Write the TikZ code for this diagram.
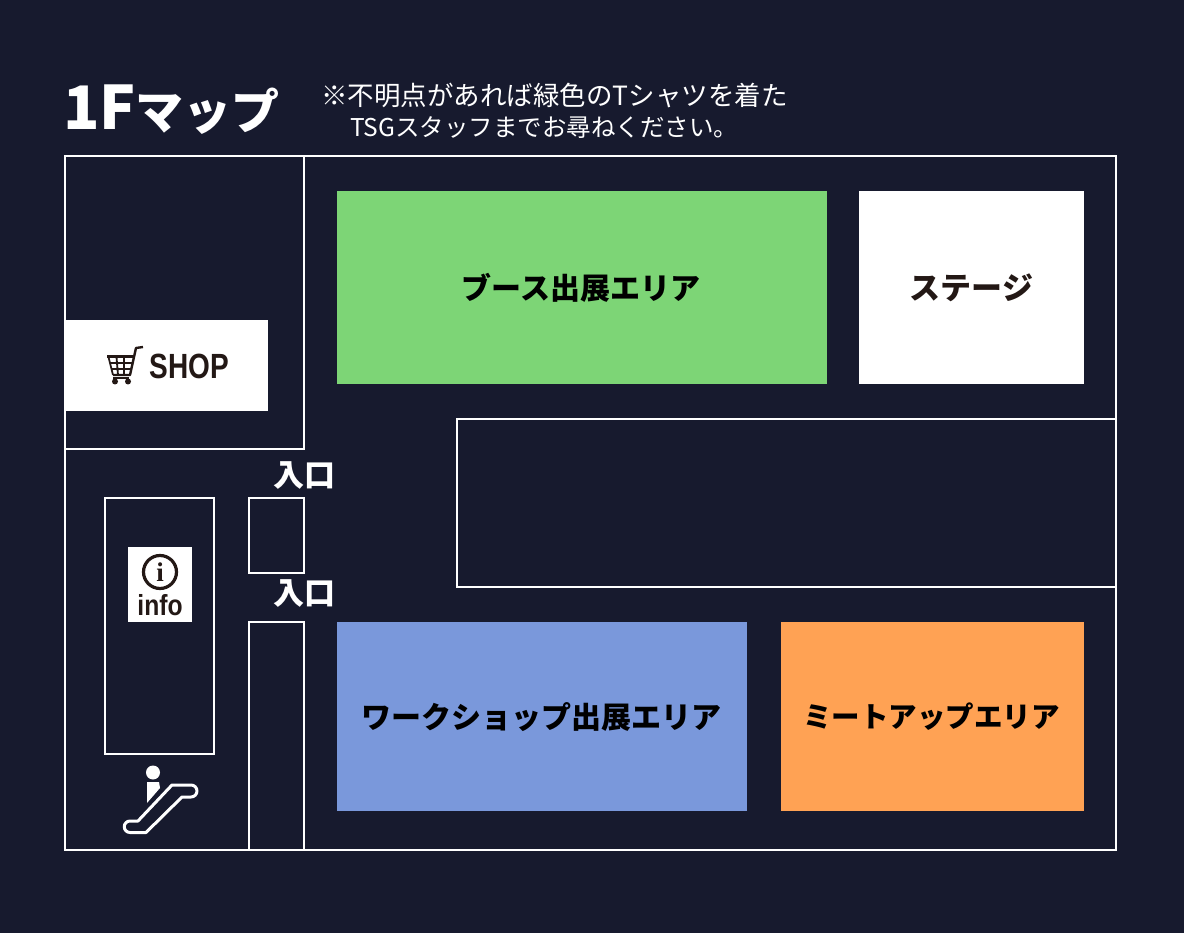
\documentclass[tikz,border=0pt]{standalone}
\usepackage{fontspec}
\setmainfont{Liberation Sans}
\newfontfamily\cjk{Noto Sans CJK JP}
\newfontfamily\serifmark{Liberation Serif}
\definecolor{mapbg}{HTML}{171A2E}
\definecolor{boothgreen}{HTML}{7DD576}
\definecolor{workblue}{HTML}{7A98DB}
\definecolor{meetorange}{HTML}{FFA254}
\definecolor{inkdark}{HTML}{231815}
\tikzset{
  wall/.style={draw=white, line width=2.8pt},
  area/.style={inner sep=0pt, font=\cjk\bfseries\fontsize{30}{30}\selectfont, text=black},
  entry/.style={inner sep=0pt, text=white, font=\cjk\bfseries\fontsize{31}{31}\selectfont}
}
\begin{document}
\begin{tikzpicture}[x=1pt,y=-1pt]
\useasboundingbox (0,0) rectangle (1184,933);
\fill[mapbg] (0,0) rectangle (1184,933);
% title
\node[anchor=west, inner sep=0pt, text=white, font=\cjk\bfseries] (title) at (63,110) {\fontsize{60}{60}\selectfont 1F\fontsize{48}{48}\selectfont マップ};
\node[anchor=west, inner sep=0pt, text=white, font=\cjk\fontsize{26.5}{26.5}\selectfont] (noteA) at (321,95) {※不明点があれば緑色のTシャツを着た};
\node[anchor=west, inner sep=0pt, text=white, font=\cjk\fontsize{24.5}{24.5}\selectfont] (noteB) at (350,128) {TSGスタッフまでお尋ねください。};
% walls
\draw[wall] (65,156) rectangle (1116,850);
\draw[wall] (304,156) -- (304,449) -- (65,449);
\draw[wall] (457,419) rectangle (1116,587);
\draw[wall] (105,498) rectangle (214,754);
\draw[wall] (249,498) rectangle (304,573);
\draw[wall] (249,850) -- (249,622) -- (304,622) -- (304,850);
% areas
\fill[boothgreen] (337,191) rectangle (827,384);
\node[area] (booth) at (581,288) {ブース出展エリア};
\fill[white] (859,191) rectangle (1084,384);
\node[area, text=inkdark, font=\cjk\bfseries\fontsize{31}{31}\selectfont] (stage) at (971.5,288) {ステージ};
\fill[workblue] (337,622) rectangle (747,811);
\node[area] (work) at (541,717) {ワークショップ出展エリア};
\fill[meetorange] (781,622) rectangle (1084,811);
\node[area, font=\cjk\bfseries\fontsize{28.5}{28.5}\selectfont] (meet) at (931.5,717) {ミートアップエリア};
\node[entry] (entryA) at (304,476) {入口};
\node[entry] (entryB) at (304,594) {入口};
% shop
\fill[white] (66,320) rectangle (268,411);
\node[inner sep=0pt, text=inkdark, font=\bfseries\fontsize{35}{35}\selectfont, xscale=0.8] (shop) at (189,366) {SHOP};
\draw[inkdark, line width=2.4pt, line join=round] (143,347) -- (136,348) -- (130,375) -- (113,375);
\draw[inkdark, line width=3pt] (107,356.5) -- (134,356.5);
\draw[inkdark, line width=1.8pt] (108.5,357) -- (113,375) (110,363) -- (132,363) (111.5,369) -- (131,369)
  (116.5,357) -- (118,375) (124,357) -- (124,375);
\draw[inkdark, line width=1.8pt] (113,378) -- (129,378);
\fill[inkdark] (115,381.5) circle (3) (128,381.5) circle (3);
% info
\fill[white] (128,547) rectangle (192,622);
\draw[inkdark, line width=3.2pt] (160,572) circle (16.5);
\node[inner sep=0pt, text=inkdark, font=\serifmark\bfseries\fontsize{27}{27}\selectfont] (infomark) at (160,572) {i};
\node[inner sep=0pt, text=inkdark, font=\bfseries\fontsize{29}{29}\selectfont, xscale=0.85] (info) at (160,605) {info};
% escalator
\fill[white] (153,772.5) circle (7);
\fill[white] (147,782) -- (159,782) -- (160,788) -- (147,803) -- cycle;
\draw[white, line width=3pt, line join=round] (172,785) -- (191,785) arc (-90:90:6) -- (182,797) -- (146,832.5) -- (130,832.5)
  arc (90:270:5.75) -- (138,821) -- cycle;
\end{tikzpicture}
\end{document}
